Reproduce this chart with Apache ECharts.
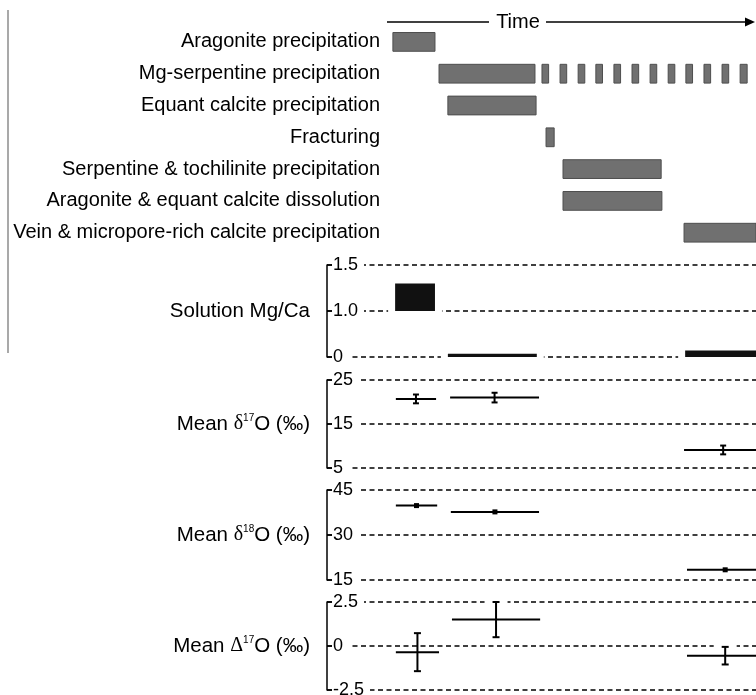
<!DOCTYPE html>
<html><head><meta charset="utf-8">
<script src="https://cdn.jsdelivr.net/npm/echarts@6/dist/echarts.min.js"></script>
<style>html,body{margin:0;padding:0;background:#fff}#c{width:756px;height:695px}</style>
</head><body><div id="c"></div>
<script>
// ---------------- data ----------------
const stages = [
  'Aragonite precipitation',
  'Mg-serpentine precipitation',
  'Equant calcite precipitation',
  'Fracturing',
  'Serpentine & tochilinite precipitation',
  'Aragonite & equant calcite dissolution',
  'Vein & micropore-rich calcite precipitation'
];
// [stage index, start time, end time]
const stageBars = [
  [0, 1.6, 13.0],
  [1, 14.1, 40.1],
  [2, 16.5, 40.4],
  [3, 43.1, 45.3],
  [4, 47.7, 74.3],
  [5, 47.7, 74.5],
  [6, 80.5, 102]
];
// intermittent Mg-serpentine precipitation [stage index, start, end]
const serpentineDashes = [
  [1, 42.0, 43.8], [1, 46.9, 48.7], [1, 51.8, 53.6], [1, 56.6, 58.4],
  [1, 61.5, 63.3], [1, 66.4, 68.2], [1, 71.3, 73.1], [1, 76.2, 78.0],
  [1, 81.0, 82.8], [1, 85.9, 87.7], [1, 90.8, 92.6], [1, 95.7, 97.6]
];
// Solution Mg/Ca : [start, end, low, high]
const mgcaTicks = [0, 1.0, 1.5];
const mgcaTickLabels = ['0', '1.0', '1.5'];
const mgcaRanges = [
  [2.2, 13.0, 1.0, 1.3],
  [16.5, 40.6, 0, 0.07],
  [80.8, 102, 0, 0.14]
];
// Mean d17O : [start, end, mean, error]
const d17Ticks = [5, 15, 25];
const d17Data = [
  [2.4, 13.3, 20.7, 1.0],
  [17.1, 41.2, 21.0, 1.1],
  [80.5, 101.7, 9.1, 1.0]
];
// Mean d18O : [start, end, mean]
const d18Ticks = [15, 30, 45];
const d18Data = [
  [2.4, 13.6, 39.8],
  [17.3, 41.2, 37.7],
  [81.3, 102, 18.4]
];
// Mean D17O : [start, end, mean, error]
const D17Ticks = [-2.5, 0, 2.5];
const D17TickLabels = ['-2.5', '0', '2.5'];
const D17Data = [
  [2.4, 14.1, -0.35, 1.08],
  [17.6, 41.5, 1.5, 1.0],
  [81.3, 102, -0.55, 0.5]
];

// ---------------- layout / style ----------------
const W = 756;
const FONT = 'Liberation Sans, Arial, Helvetica, sans-serif';
const SERIF = 'Liberation Serif, Times New Roman, serif';
const ganttLeft = 387, panelLeft = 327;
const xMax = 100;
const pxPerUnit = (W - ganttLeft) / xMax;
const panelXMin = -(ganttLeft - panelLeft) / pxPerUnit;
const panels = [
  { top: 265, height: 92 },
  { top: 380, height: 88 },
  { top: 490, height: 90 },
  { top: 602, height: 88 }
];

// piecewise mapping of a value onto evenly spaced tick positions (0..n-1)
function tickIndex(ticks, v) {
  for (let i = 0; i < ticks.length - 1; i++) {
    if (v <= ticks[i + 1] || i === ticks.length - 2) {
      return i + (v - ticks[i]) / (ticks[i + 1] - ticks[i]);
    }
  }
}

const grids = [{ left: ganttLeft, right: 0, top: 26, height: 222.6 }]
  .concat(panels.map(p => ({ left: panelLeft, right: 0, top: p.top, height: p.height })))
  .map(g => Object.assign(g, { containLabel: false, outerBoundsMode: 'none' }));

const xAxes = [{ type: 'value', gridIndex: 0, min: 0, max: xMax, show: false }]
  .concat(panels.map((p, i) => ({ type: 'value', gridIndex: i + 1, min: panelXMin, max: xMax, show: false })));

function nameStyle() {
  return {
    fontSize: 20.5, color: '#000', fontFamily: FONT, align: 'right', verticalAlign: 'middle',
    rich: {
      g: { fontFamily: SERIF, fontSize: 20, color: '#000' },
      s: { fontFamily: FONT, fontSize: 10, color: '#000', verticalAlign: 'top', lineHeight: 12 },
      t: { fontFamily: FONT, fontSize: 20.5, color: '#000' }
    }
  };
}
function panelYAxis(gi, labels, name) {
  return {
    type: 'value', gridIndex: gi, min: 0, max: labels.length - 1, interval: 1, position: 'left',
    name: name, nameLocation: 'middle', nameRotate: 0, nameGap: 17, nameTextStyle: nameStyle(),
    axisLine: { show: true, onZero: false, lineStyle: { color: '#000', width: 1.5 } },
    axisTick: { show: true, inside: true, length: 5, lineStyle: { color: '#000', width: 1.5 } },
    axisLabel: {
      inside: true, margin: 6, fontSize: 18, color: '#000', fontFamily: FONT,
      backgroundColor: '#fff', padding: [1, 6, 1, 0], showMinLabel: true, showMaxLabel: true,
      formatter: v => labels[Math.round(v)]
    },
    splitLine: { show: true, lineStyle: { color: '#000', width: 1.5, type: [5, 3.5] } }
  };
}

const yAxes = [{
  type: 'category', gridIndex: 0, data: stages, inverse: true,
  axisLine: { show: false }, axisTick: { show: false }, splitLine: { show: false },
  axisLabel: { interval: 0, margin: 7, fontSize: 20, color: '#000', fontFamily: FONT }
},
  panelYAxis(1, mgcaTickLabels, 'Solution Mg/Ca'),
  panelYAxis(2, d17Ticks.map(String), '{t|Mean }{g|δ}{s|17}{t|O (‰)}'),
  panelYAxis(3, d18Ticks.map(String), '{t|Mean }{g|δ}{s|18}{t|O (‰)}'),
  panelYAxis(4, D17TickLabels, '{t|Mean }{g|Δ}{s|17}{t|O (‰)}')
];

function clipTo(rect, cs) {
  return echarts.graphic.clipRectByRect(rect, { x: cs.x, y: cs.y, width: cs.width, height: cs.height });
}

function ganttItem(params, api) {
  const cat = api.value(0);
  const p0 = api.coord([api.value(1), cat]);
  const p1 = api.coord([api.value(2), cat]);
  const h = api.size([0, 1])[1] * 0.59;
  const r = clipTo({ x: p0[0], y: p0[1] - h / 2, width: p1[0] - p0[0], height: h }, params.coordSys);
  return r && { type: 'rect', shape: r, style: { fill: '#707070', stroke: '#4e4e4e', lineWidth: 1 } };
}

function mgcaItem(params, api) {
  const s = api.value(0), e = api.value(1);
  const lo = tickIndex(mgcaTicks, api.value(2)), hi = tickIndex(mgcaTicks, api.value(3));
  const a = api.coord([s, hi]), b = api.coord([e, lo]);
  const minH = params.dataIndex === 1 ? 3.3 : 5.5;
  let y0 = a[1], hgt = b[1] - a[1];
  if (hgt < minH) { y0 = b[1] - minH; hgt = minH; }
  return {
    type: 'group', children: [
      { type: 'rect', shape: { x: a[0] - 7, y: y0 - 2, width: b[0] - a[0] + 14, height: hgt + 4 }, style: { fill: '#fff' } },
      { type: 'rect', shape: { x: a[0], y: y0, width: b[0] - a[0], height: hgt }, style: { fill: '#111' } }
    ]
  };
}

function errItem(ticks, cap) {
  return function (params, api) {
    const s = api.value(0), e = api.value(1), m = api.value(2), err = api.value(3);
    const mid = (s + e) / 2;
    const a = api.coord([s, tickIndex(ticks, m)]), b = api.coord([e, tickIndex(ticks, m)]);
    const t = api.coord([mid, tickIndex(ticks, m + err)]), d = api.coord([mid, tickIndex(ticks, m - err)]);
    const st = { stroke: '#000', lineWidth: 2 };
    return {
      type: 'group', children: [
        { type: 'rect', shape: { x: t[0] - cap - 8, y: t[1] - 2.5, width: 2 * cap + 16, height: 5 }, style: { fill: '#fff' } },
        { type: 'rect', shape: { x: d[0] - cap - 8, y: d[1] - 2.5, width: 2 * cap + 16, height: 5 }, style: { fill: '#fff' } },
        { type: 'line', shape: { x1: a[0], y1: a[1], x2: b[0], y2: b[1] }, style: st },
        { type: 'line', shape: { x1: t[0], y1: t[1], x2: d[0], y2: d[1] }, style: st },
        { type: 'line', shape: { x1: t[0] - cap, y1: t[1], x2: t[0] + cap, y2: t[1] }, style: st },
        { type: 'line', shape: { x1: d[0] - cap, y1: d[1], x2: d[0] + cap, y2: d[1] }, style: st }
      ]
    };
  };
}

function d18Item(params, api) {
  const s = api.value(0), e = api.value(1), m = tickIndex(d18Ticks, api.value(2));
  const a = api.coord([s, m]), b = api.coord([e, m]), c = api.coord([(s + e) / 2, m]);
  return {
    type: 'group', children: [
      { type: 'line', shape: { x1: a[0], y1: a[1], x2: b[0], y2: b[1] }, style: { stroke: '#000', lineWidth: 2 } },
      { type: 'rect', shape: { x: c[0] - 2.5, y: c[1] - 2.5, width: 5, height: 5 }, style: { fill: '#000' } }
    ]
  };
}

const option = {
  animation: false,
  backgroundColor: '#fff',
  textStyle: { fontFamily: FONT },
  grid: grids,
  xAxis: xAxes,
  yAxis: yAxes,
  series: [
    { type: 'custom', xAxisIndex: 0, yAxisIndex: 0, renderItem: ganttItem, encode: { x: [1, 2], y: 0 }, data: stageBars.concat(serpentineDashes) },
    { type: 'custom', xAxisIndex: 1, yAxisIndex: 1, renderItem: mgcaItem, encode: { x: [0, 1] }, data: mgcaRanges },
    { type: 'custom', xAxisIndex: 2, yAxisIndex: 2, renderItem: errItem(d17Ticks, 3), encode: { x: [0, 1] }, data: d17Data },
    { type: 'custom', xAxisIndex: 3, yAxisIndex: 3, renderItem: d18Item, encode: { x: [0, 1] }, data: d18Data },
    { type: 'custom', xAxisIndex: 4, yAxisIndex: 4, renderItem: errItem(D17Ticks, 3.5), encode: { x: [0, 1] }, data: D17Data }
  ],
  graphic: [
    { type: 'line', shape: { x1: 8, y1: 10, x2: 8, y2: 353 }, style: { stroke: '#8c8c8c', lineWidth: 1.5 } },
    { type: 'line', shape: { x1: ganttLeft, y1: 22, x2: 489, y2: 22 }, style: { stroke: '#000', lineWidth: 1.5 } },
    { type: 'text', x: 518, y: 22, style: { text: 'Time', fontSize: 20, fontFamily: FONT, fill: '#000', align: 'center', verticalAlign: 'middle' } },
    { type: 'line', shape: { x1: 546, y1: 22, x2: 748, y2: 22 }, style: { stroke: '#000', lineWidth: 1.5 } },
    { type: 'polygon', shape: { points: [[745, 17.5], [755, 22], [745, 26.5]] }, style: { fill: '#000' } }
  ]
};

const chart = echarts.init(document.getElementById('c'), null, { renderer: 'canvas' });
chart.setOption(option);
</script>
</body></html>
